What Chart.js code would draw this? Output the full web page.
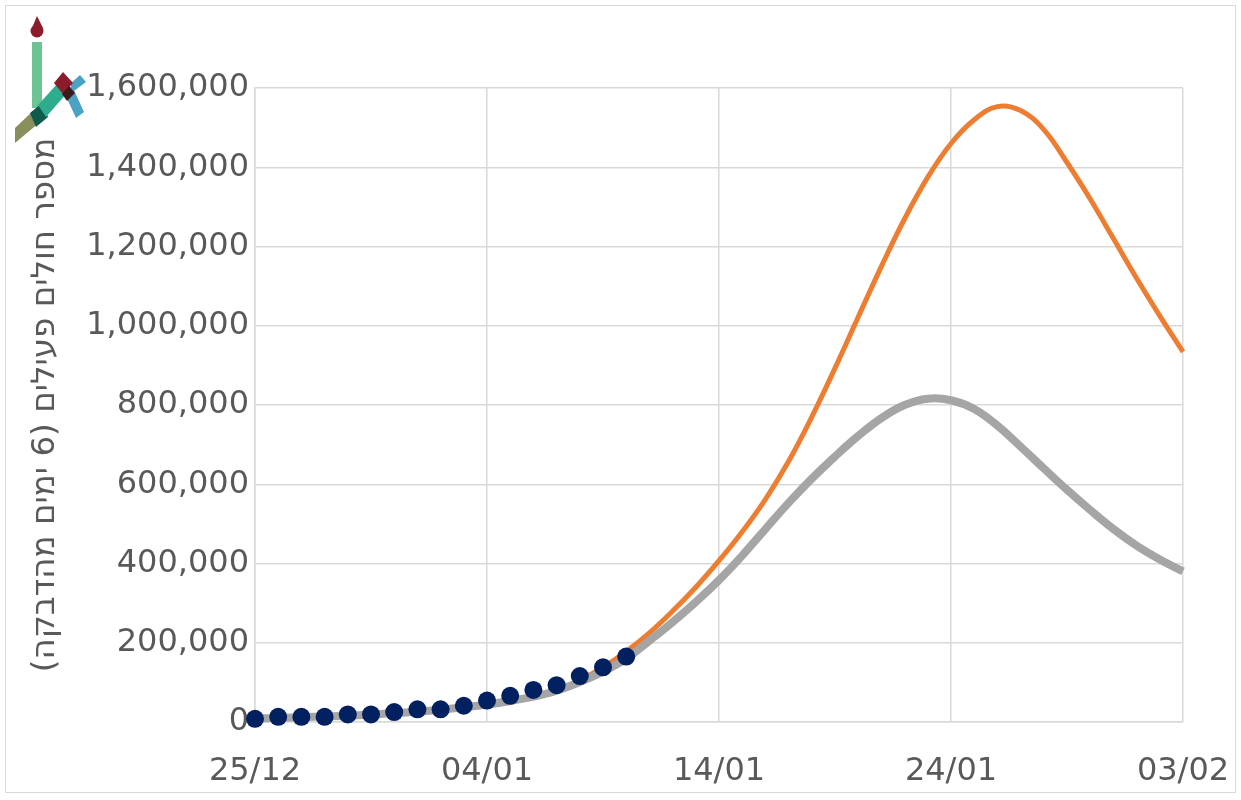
<!DOCTYPE html>
<html>
<head>
<meta charset="utf-8">
<script src="https://cdn.jsdelivr.net/npm/chart.js@4.4.1/dist/chart.umd.min.js"></script>
<style>
  html, body { margin: 0; padding: 0; background: #fff; }
</style>
</head>
<body>
<canvas id="activeChart" width="1241" height="800" dir="rtl"></canvas>
<script>
// x axis: one entry per day, 25/12 .. 03/02
const dates = ['25/12', '26/12', '27/12', '28/12', '29/12', '30/12', '31/12',
    '01/01', '02/01', '03/01', '04/01', '05/01', '06/01', '07/01', '08/01', '09/01', '10/01',
    '11/01', '12/01', '13/01', '14/01', '15/01', '16/01', '17/01', '18/01', '19/01', '20/01',
    '21/01', '22/01', '23/01', '24/01', '25/01', '26/01', '27/01', '28/01', '29/01', '30/01',
    '31/01', '01/02', '02/02', '03/02'];

// observed active cases (dots), 25/12 .. 10/01
const observed = [8000, 13000, 13000, 13000, 19000, 19000, 25000, 32000, 32000, 41000,
    54000, 66000, 81000, 93000, 116000, 138000, 165000];

// grey scenario
const scenarioLow = [9000, 10000, 12000, 14000, 16000, 19000, 22000, 26000, 31000, 37000,
    44000, 53000, 64000, 79000, 101000, 127000, 160000, 205000, 252000, 303000,
    358000, 420000, 487000, 553000, 614000, 670000, 722000, 767000, 800000, 816000,
    812000, 790000, 748000, 695000, 640000, 586000, 535000, 487000, 445000, 410000, 380000];

// orange scenario
const scenarioHigh = [9000, 10000, 12000, 14000, 16000, 19000, 22000, 26000, 31000, 37000,
    44000, 53000, 65000, 81000, 106000, 138000, 178000, 225000, 280000, 340000,
    407000, 480000, 562000, 658000, 770000, 893000, 1022000, 1150000, 1270000, 1375000,
    1460000, 1520000, 1553000, 1543000, 1495000, 1412000, 1320000, 1220000, 1120000, 1025000, 934000];

const yTitle = 'מספר חולים פעילים (6 ימים מהדבקה)';

const toXY = arr => arr.map((v, i) => ({ x: i, y: v }));

Chart.defaults.font.family = "'DejaVu Sans', sans-serif";
Chart.defaults.color = '#595959';

// white page, thin frame and the small logo in the corner
const framePlugin = {
    id: 'frame',
    beforeDraw(chart) {
        const ctx = chart.ctx;
        ctx.save();
        ctx.fillStyle = '#ffffff';
        ctx.fillRect(0, 0, chart.width, chart.height);
        ctx.strokeStyle = '#d9d9d9';
        ctx.lineWidth = 1;
        ctx.strokeRect(5.5, 5.5, 1230, 787);
        ctx.restore();
    },
    afterDraw(chart) {
        const ctx = chart.ctx;
        const poly = (color, pts) => {
            ctx.fillStyle = color;
            ctx.beginPath();
            ctx.moveTo(pts[0][0], pts[0][1]);
            pts.slice(1).forEach(p => ctx.lineTo(p[0], p[1]));
            ctx.closePath();
            ctx.fill();
        };
        ctx.save();
        // flame
        ctx.fillStyle = '#8c1c2c';
        ctx.beginPath();
        ctx.arc(37, 31, 6.5, 0, Math.PI * 2);
        ctx.fill();
        poly('#8c1c2c', [[32, 28], [37, 16], [43, 28]]);
        // upright
        poly('#6cc495', [[32, 42], [42, 42], [42, 108], [32, 108]]);
        // olive strip
        poly('#8a8d5c', [[15, 128], [15, 143], [40, 122], [33, 111]]);
        // dark green overlap
        poly('#0f5a4b', [[30, 113], [42, 103], [48, 117], [36, 127]]);
        // teal strip
        poly('#2eac8e', [[38, 105], [58, 83], [67, 93], [46, 117]]);
        // blue strip
        poly('#4aa2c4', [[64, 92], [72, 86], [84, 112], [76, 118]]);
        poly('#4aa2c4', [[70, 84], [80, 75], [86, 82], [74, 91]]);
        // red square
        poly('#8c1c2c', [[54, 83], [63, 72], [73, 83], [63, 94]]);
        poly('#3b1a1c', [[62, 94], [69, 86], [75, 93], [67, 101]]);
        ctx.restore();
    }
};

const ctx = document.getElementById('activeChart').getContext('2d');
const activeChart = new Chart(ctx, {
    type: 'line',
    data: {
        datasets: [
            {
                label: 'Observed',
                data: toXY(observed),
                showLine: false,
                pointRadius: 9,
                pointBackgroundColor: '#002060',
                pointBorderColor: '#002060',
                pointBorderWidth: 0,
                clip: false,
                order: 0
            },
            {
                label: 'Scenario low',
                data: toXY(scenarioLow),
                borderColor: '#a5a5a5',
                borderWidth: 8,
                pointRadius: 0,
                tension: 0.4,
                fill: false,
                clip: false,
                order: 1
            },
            {
                label: 'Scenario high',
                data: toXY(scenarioHigh),
                borderColor: '#ed7d31',
                borderWidth: 5,
                pointRadius: 0,
                tension: 0.4,
                fill: false,
                clip: false,
                order: 2
            }
        ]
    },
    options: {
        responsive: false,
        animation: false,
        layout: {
            padding: { left: 0, top: 88, right: 58, bottom: 0 }
        },
        plugins: {
            legend: { display: false },
            tooltip: { enabled: false }
        },
        scales: {
            x: {
                type: 'linear',
                min: 0,
                max: 40,
                afterFit: s => {
                    s.height = 78;
                    // labels overhang the ends; keep the plot edges where they are
                    s.paddingLeft = 0;
                    s.paddingRight = 0;
                },
                ticks: {
                    stepSize: 10,
                    padding: 30,
                    maxRotation: 0,
                    font: { size: 32 },
                    callback: v => dates[v]
                },
                grid: { color: '#d9d9d9', lineWidth: 1.5, drawTicks: false },
                border: { color: '#d9d9d9', width: 1.5 }
            },
            y: {
                min: 0,
                max: 1600000,
                afterFit: s => { s.width = 255; },
                ticks: {
                    stepSize: 200000,
                    padding: 6,
                    font: { size: 32 },
                    callback: v => v.toLocaleString('en-US')
                },
                grid: { color: '#d9d9d9', lineWidth: 1.5, drawTicks: false },
                border: { color: '#d9d9d9', width: 1.5 },
                title: {
                    display: true,
                    text: yTitle,
                    font: { size: 32.5 },
                    color: '#595959',
                    padding: { top: 26, bottom: 0 }
                }
            }
        }
    },
    plugins: [framePlugin]
});
</script>
</body>
</html>
